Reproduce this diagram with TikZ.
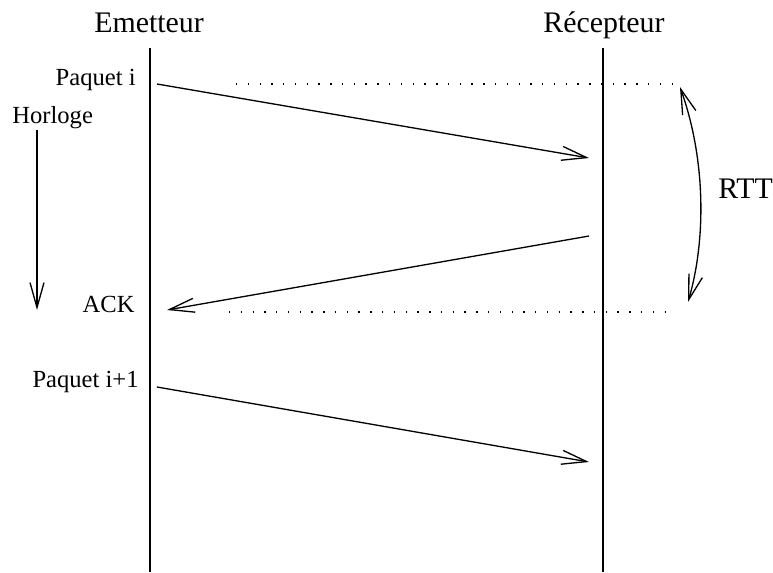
\documentclass[tikz,border=0pt]{standalone}
\usepackage{fontspec}
\setmainfont{Liberation Serif}
\usepackage{tikz}
\usetikzlibrary{arrows.meta,positioning}

\begin{document}
\begin{tikzpicture}[
  x=0.02cm, y=-0.02cm,
  every node/.style={inner sep=0pt},
  titre/.style={font=\fontsize{17}{20}\selectfont, anchor=base},
  etiq/.style={font=\fontsize{14}{16}\selectfont},
  fleche/.style={line width=0.75pt, -{Straight Barb[length=5mm,width=2.8mm]}},
  pointille/.style={line width=0.75pt, dash pattern=on 0.8pt off 5.9pt},
  ]
  \useasboundingbox (0,0) rectangle (773,572);
  % entites
  \node[titre] (emet) at (149,32) {Emetteur};
  \node[titre] (recep) at (604,32) {Récepteur};
  \coordinate (emhaut) at (150,48);
  \coordinate (embas) at (150,572);
  \coordinate (rehaut) at (603,48);
  \coordinate (rebas) at (603,572);
  \draw[line width=0.75pt] (emhaut) -- (embas);
  \draw[line width=0.75pt] (rehaut) -- (rebas);
  % etiquettes
  \node[etiq, anchor=base east] (p1) at (136,85) {Paquet i};
  \node[etiq, anchor=base west] (horl) at (12,123) {Horloge};
  \node[etiq, anchor=base east] (ack) at (135,312) {ACK};
  \node[etiq, anchor=base east] (p2) at (139,387) {Paquet i+1};
  \node[titre, anchor=base west] (rtt) at (718,198) {RTT};
  % points des messages
  \coordinate (a1) at (157,84);
  \coordinate (b1) at (589,158);
  \coordinate (b2) at (589,236);
  \coordinate (a2) at (167,310);
  \coordinate (a3) at (157,387);
  \coordinate (b3) at (589,462);
  \draw[fleche] (a1) -- (b1);
  \draw[fleche] (b2) -- (a2);
  \draw[fleche] (a3) -- (b3);
  % horloge
  \coordinate (h1) at (37,130);
  \coordinate (h2) at (37,310);
  \draw[fleche] (h1) -- (h2);
  % pointilles et RTT
  \coordinate (d1) at (236,84);
  \coordinate (d2) at (673,84);
  \coordinate (d3) at (229,312);
  \coordinate (d4) at (673,312);
  \draw[pointille] (d1) -- (d2);
  \draw[pointille] (d3) -- (d4);
  \coordinate (r1) at (680,87);
  \coordinate (r2) at (688,302);
  \draw[fleche, {Straight Barb[length=5mm,width=2.8mm]}-{Straight Barb[length=5mm,width=2.8mm]}]
    (r1) .. controls (706,160) and (706,240) .. (r2);
\end{tikzpicture}
\end{document}
